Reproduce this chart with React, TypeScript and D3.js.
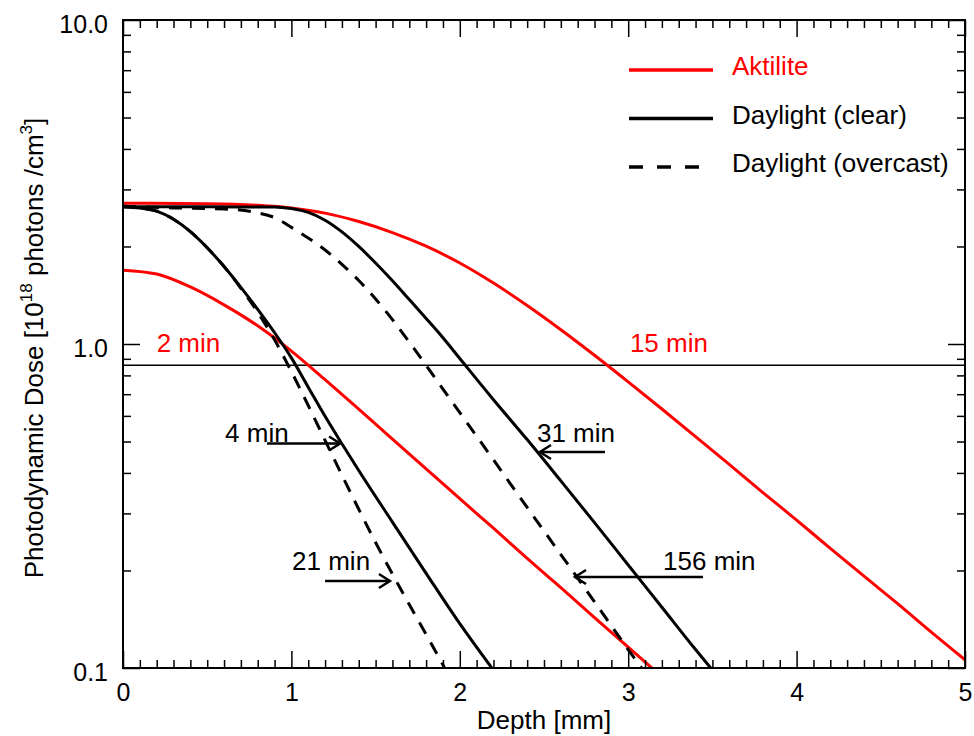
import React, { useEffect, useRef } from "react";
import * as d3 from "d3";

// depth [mm], dose [10^18 photons/cm^3]
const aktilite15: [number, number][] = [
  [0, 2.72], [0.5, 2.71], [0.8, 2.68], [1.0, 2.63], [1.2, 2.535], [1.4, 2.388],
  [1.6, 2.208], [1.8, 2.004], [2.0, 1.778], [2.2, 1.542], [2.4, 1.315], [2.6, 1.107],
  [2.8, 0.923], [3.0, 0.764], [3.2, 0.63], [3.4, 0.518], [3.6, 0.425],
  [3.8, 0.348], [4.0, 0.286], [4.2, 0.234], [4.4, 0.192], [4.6, 0.158],
  [4.8, 0.129], [5.0, 0.106],
];
const aktilite2: [number, number][] = [
  [0, 1.69], [0.2, 1.644], [0.4, 1.5], [0.6, 1.321], [0.8, 1.138], [1.0, 0.951],
  [1.2, 0.776], [1.4, 0.63], [1.6, 0.509], [1.8, 0.412], [2.0, 0.333],
  [2.2, 0.27], [2.4, 0.218], [2.6, 0.177], [2.8, 0.143], [3.0, 0.116], [3.16, 0.098],
];
const clear4: [number, number][] = [
  [0, 2.649], [0.1, 2.63], [0.2, 2.57], [0.3, 2.427], [0.4, 2.223], [0.5, 1.982],
  [0.6, 1.734], [0.7, 1.496], [0.8, 1.279], [0.9, 1.084], [1.0, 0.906], [1.1, 0.736],
  [1.2, 0.598], [1.3, 0.492], [1.4, 0.407], [1.6, 0.282], [1.8, 0.196],
  [2.0, 0.137], [2.19, 0.1],
];
const overcast21: [number, number][] = [
  [0, 2.66], [0.1, 2.63], [0.2, 2.57], [0.3, 2.427], [0.4, 2.223], [0.5, 1.982],
  [0.6, 1.734], [0.7, 1.486], [0.8, 1.253], [0.9, 1.03], [1.0, 0.822], [1.1, 0.646],
  [1.2, 0.504], [1.3, 0.394], [1.4, 0.309], [1.5, 0.244], [1.6, 0.195],
  [1.7, 0.157], [1.8, 0.127], [1.91, 0.1],
];
const clear31: [number, number][] = [
  [0, 2.65], [0.5, 2.65], [0.9, 2.649], [1.0, 2.618], [1.1, 2.547], [1.2, 2.41],
  [1.3, 2.218], [1.4, 2.0], [1.5, 1.778], [1.6, 1.567], [1.7, 1.371], [1.8, 1.199],
  [1.9, 1.045], [2.0, 0.902], [2.2, 0.673], [2.4, 0.507], [2.6, 0.378], [2.8, 0.281],
  [3.0, 0.208], [3.2, 0.154], [3.4, 0.114], [3.49, 0.1],
];
const overcast156: [number, number][] = [
  [0, 2.66], [0.3, 2.63], [0.6, 2.61], [0.8, 2.541], [0.9, 2.455], [1.0, 2.291],
  [1.1, 2.123], [1.2, 1.95], [1.3, 1.762], [1.4, 1.57], [1.5, 1.377], [1.6, 1.189],
  [1.7, 1.014], [1.8, 0.859], [1.9, 0.726], [2.0, 0.614], [2.2, 0.439], [2.4, 0.313],
  [2.6, 0.224], [2.8, 0.16], [3.0, 0.114], [3.08, 0.1],
];

const thresholdDose = 0.86;

const xMajor = [0, 1, 2, 3, 4, 5];
const xMinor = d3.range(1, 50).filter((i) => i % 10 !== 0).map((i) => i / 10);
const yMajor = [0.1, 1, 10];
const yMinor = [0.2, 0.3, 0.4, 0.5, 0.6, 0.7, 0.8, 0.9, 2, 3, 4, 5, 6, 7, 8, 9];

const RED = "#ff0000";

const legendItems = [
  { label: "Aktilite", color: RED, dash: null },
  { label: "Daylight (clear)", color: "#000", dash: null },
  { label: "Daylight (overcast)", color: "#000", dash: "14,14" },
];

// annotation labels at (depth, dose)
const timeLabels = [
  { text: "2 min", x: 0.2, y: 0.945, color: RED },
  { text: "15 min", x: 3.01, y: 0.945, color: RED },
  { text: "4 min", x: 0.606, y: 0.499, color: "#000" },
  { text: "31 min", x: 2.458, y: 0.499, color: "#000" },
  { text: "21 min", x: 1.004, y: 0.2, color: "#000" },
  { text: "156 min", x: 3.207, y: 0.2, color: "#000" },
];
// arrows: from tail depth to tip depth, at dose
const arrows = [
  { from: 0.855, to: 1.289, y: 0.493 },
  { from: 2.862, to: 2.476, y: 0.464 },
  { from: 1.2, to: 1.585, y: 0.1855 },
  { from: 3.444, to: 2.684, y: 0.191 },
];

function App() {
  const svgRef = useRef<SVGSVGElement>(null);

  useEffect(() => {
    const width = 974;
    const height = 736;
    const left = 123, right = 965, top = 20, bottom = 668;
    const font = "'Liberation Sans', Arial, Helvetica, sans-serif";

    d3.select(svgRef.current).selectAll("*").remove();
    const svg = d3
      .select(svgRef.current)
      .attr("width", width)
      .attr("height", height)
      .style("font-family", font);

    svg.append("rect").attr("width", width).attr("height", height).attr("fill", "#fff");

    const x = d3.scaleLinear().domain([0, 5]).range([left, right]);
    const y = d3.scaleLog().domain([0.1, 10]).range([bottom, top]);

    svg
      .append("clipPath")
      .attr("id", "plotclip")
      .append("rect")
      .attr("x", left)
      .attr("y", top)
      .attr("width", right - left)
      .attr("height", bottom - top);

    const line = d3
      .line<[number, number]>()
      .x((d) => x(d[0]))
      .y((d) => y(d[1]))
      .curve(d3.curveMonotoneX);

    const series = [
      { points: aktilite15, color: RED, dash: null },
      { points: aktilite2, color: RED, dash: null },
      { points: overcast21, color: "#000", dash: "13,10" },
      { points: clear4, color: "#000", dash: null },
      { points: overcast156, color: "#000", dash: "13,10" },
      { points: clear31, color: "#000", dash: null },
    ];

    const plot = svg.append("g").attr("clip-path", "url(#plotclip)");

    // threshold line
    plot
      .append("line")
      .attr("x1", left)
      .attr("x2", right)
      .attr("y1", y(thresholdDose))
      .attr("y2", y(thresholdDose))
      .attr("stroke", "#000")
      .attr("stroke-width", 1.5);

    series.forEach((s) => {
      plot
        .append("path")
        .attr("d", line(s.points))
        .attr("fill", "none")
        .attr("stroke", s.color)
        .attr("stroke-width", 3)
        .attr("stroke-dasharray", s.dash);
    });

    // axes
    const styleAxis = (g: any) => {
      g.select(".domain").remove();
      g.selectAll(".tick line").attr("stroke", "#000").attr("stroke-width", 1.5);
      g.selectAll("text").style("font-size", "25px").style("font-family", font).attr("fill", "#000");
    };

    svg.append("g").attr("transform", `translate(0,${bottom})`)
      .call(d3.axisBottom(x).tickValues(xMajor).tickFormat(d3.format("d")).tickSize(-17).tickPadding(15))
      .call(styleAxis);
    svg.append("g").attr("transform", `translate(0,${bottom})`)
      .call(d3.axisBottom(x).tickValues(xMinor).tickFormat(() => "").tickSize(-8))
      .call(styleAxis);
    svg.append("g").attr("transform", `translate(0,${top})`)
      .call(d3.axisTop(x).tickValues(xMajor).tickFormat(() => "").tickSize(-17))
      .call(styleAxis);
    svg.append("g").attr("transform", `translate(0,${top})`)
      .call(d3.axisTop(x).tickValues(xMinor).tickFormat(() => "").tickSize(-8))
      .call(styleAxis);

    svg.append("g").attr("transform", `translate(${left},0)`)
      .call(d3.axisLeft(y).tickValues(yMajor).tickFormat(d3.format(".1f")).tickSize(-17).tickPadding(15))
      .call(styleAxis)
      .call((g: any) => g.selectAll("text").attr("dy", "0.5em"));
    svg.append("g").attr("transform", `translate(${left},0)`)
      .call(d3.axisLeft(y).tickValues(yMinor).tickFormat(() => "").tickSize(-8))
      .call(styleAxis);
    svg.append("g").attr("transform", `translate(${right},0)`)
      .call(d3.axisRight(y).tickValues(yMajor).tickFormat(() => "").tickSize(-17))
      .call(styleAxis);
    svg.append("g").attr("transform", `translate(${right},0)`)
      .call(d3.axisRight(y).tickValues(yMinor).tickFormat(() => "").tickSize(-8))
      .call(styleAxis);

    // frame
    svg
      .append("rect")
      .attr("x", left)
      .attr("y", top)
      .attr("width", right - left)
      .attr("height", bottom - top)
      .attr("fill", "none")
      .attr("stroke", "#000")
      .attr("stroke-width", 2);

    // annotations
    timeLabels.forEach((t) => {
      svg
        .append("text")
        .attr("x", x(t.x))
        .attr("y", y(t.y))
        .attr("fill", t.color)
        .style("font-size", "26px")
        .text(t.text);
    });

    arrows.forEach((a) => {
      const x0 = x(a.from);
      const x1 = x(a.to);
      const yy = y(a.y);
      const dir = x1 > x0 ? 1 : -1;
      svg
        .append("line")
        .attr("x1", x0)
        .attr("x2", x1)
        .attr("y1", yy)
        .attr("y2", yy)
        .attr("stroke", "#000")
        .attr("stroke-width", 2.5);
      svg
        .append("path")
        .attr("d", `M${x1 - 11 * dir},${yy - 7}L${x1},${yy}L${x1 - 11 * dir},${yy + 7}`)
        .attr("fill", "none")
        .attr("stroke", "#000")
        .attr("stroke-width", 2.5);
    });

    // legend
    legendItems.forEach((item, i) => {
      const ly = 70 + i * 48.5;
      svg
        .append("line")
        .attr("x1", 629)
        .attr("x2", 713)
        .attr("y1", ly)
        .attr("y2", ly)
        .attr("stroke", item.color)
        .attr("stroke-width", 3.5)
        .attr("stroke-dasharray", item.dash);
      svg
        .append("text")
        .attr("x", 732)
        .attr("y", ly + 5)
        .attr("fill", item.color)
        .style("font-size", "26px")
        .text(item.label);
    });

    // axis titles
    svg
      .append("text")
      .attr("x", (left + right) / 2)
      .attr("y", 729)
      .attr("text-anchor", "middle")
      .style("font-size", "26px")
      .text("Depth [mm]");

    const yt = svg
      .append("text")
      .attr("transform", `translate(43,${(top + bottom) / 2 + 4}) rotate(-90)`)
      .attr("text-anchor", "middle")
      .style("font-size", "26px");
    yt.append("tspan").text("Photodynamic Dose [10");
    yt.append("tspan").attr("dy", -11).style("font-size", "17px").text("18");
    yt.append("tspan").attr("dy", 11).text("\u00a0photons /cm");
    yt.append("tspan").attr("dy", -11).style("font-size", "17px").text("3");
    yt.append("tspan").attr("dy", 11).text("]");
  }, []);

  return <svg ref={svgRef} style={{ position: "absolute", left: 0, top: 0 }}></svg>;
}

export default App;
